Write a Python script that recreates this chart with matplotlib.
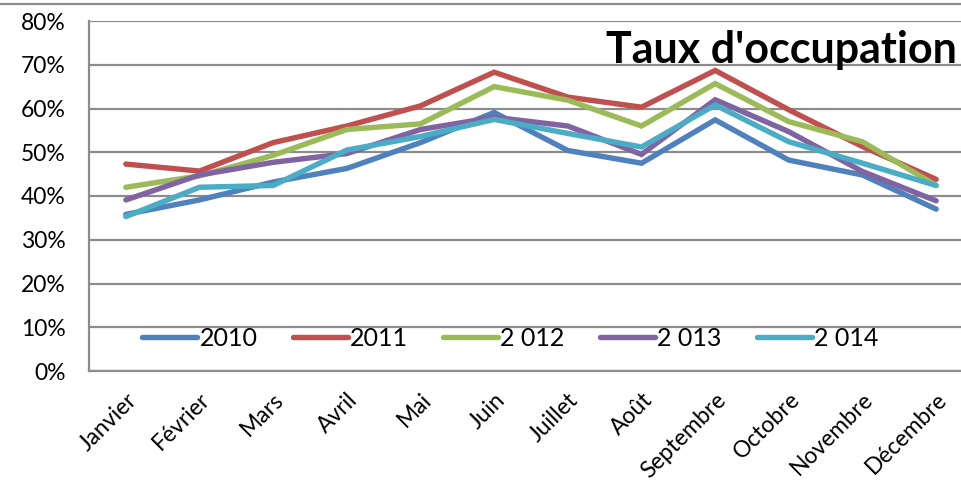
import matplotlib
matplotlib.use("Agg")
import matplotlib.pyplot as plt
from matplotlib.lines import Line2D
from matplotlib.ticker import FuncFormatter

plt.rcParams['font.family'] = ['Lato', 'DejaVu Sans']

months = ["Janvier", "Février", "Mars", "Avril", "Mai", "Juin", "Juillet",
          "Août", "Septembre", "Octobre", "Novembre", "Décembre"]
series_names = ["2010", "2011", "2 012", "2 013", "2 014"]
y2010 = [35.8, 39.1, 43.2, 46.3, 52.2, 59.1, 50.4, 47.5, 57.4, 48.2, 44.8, 37.0]
y2011 = [47.3, 45.7, 52.2, 56.0, 60.6, 68.3, 62.6, 60.3, 68.7, 59.7, 51.3, 43.8]
y2012 = [42.0, 44.6, 49.3, 55.2, 56.5, 65.0, 61.9, 56.0, 65.7, 57.0, 52.4, 42.4]
y2013 = [39.1, 44.8, 47.7, 49.7, 55.2, 58.0, 56.0, 49.5, 62.0, 54.7, 45.6, 38.9]
y2014 = [35.3, 42.0, 42.4, 50.5, 53.6, 57.5, 54.3, 51.2, 60.8, 52.4, 47.5, 42.4]
colors = ["#4F81BD", "#C0504D", "#9BBB59", "#8064A2", "#4BACC6"]

W, H = 962, 487
fig = plt.figure(figsize=(W / 100, H / 100), dpi=100)
ax = fig.add_axes([89 / W, (H - 371) / H, (973 - 89) / W, (371 - 21) / H])

x = list(range(len(months)))
for ys, c, name in zip([y2010, y2011, y2012, y2013, y2014], colors, series_names):
    ax.plot(x, ys, color=c, lw=3.9, solid_capstyle='round', solid_joinstyle='miter', label=name, zorder=3)

ax.set_xlim(-0.5, len(months) - 0.5)
ax.set_ylim(0, 80)
ax.set_yticks(range(0, 81, 10))
ax.yaxis.set_major_formatter(FuncFormatter(lambda v, p: f"{int(v)}%"))
ax.grid(axis='y', color='#8C8C8C', lw=1.6, zorder=1)
ax.set_axisbelow(True)
for s in ['top', 'right']:
    ax.spines[s].set_visible(False)
for s in ['left', 'bottom']:
    ax.spines[s].set_color('#8C8C8C')
    ax.spines[s].set_linewidth(1.6)
ax.tick_params(axis='both', length=0, colors='black')
ax.tick_params(axis='y', pad=17, labelsize=16.5)
ax.set_xticks(x)
ax.set_xticklabels(months, rotation=45, ha='right', rotation_mode='anchor', fontsize=16.5)
ax.tick_params(axis='x', pad=13)

leg = ax.legend(loc='center left', bbox_to_anchor=(53 / 884, 33 / 350), ncol=5, frameon=False,
                fontsize=18, handlelength=2.2, handletextpad=0.1, columnspacing=1.4,
                borderaxespad=0, borderpad=0)

fig.text(606 / W, (H - 63) / H, "Taux d'occupation", fontsize=31, fontweight='bold',
         ha='left', va='baseline')

fig.add_artist(Line2D([0, 1], [(H - 4) / H, (H - 4) / H], color='#8C8C8C', lw=1.6,
                      transform=fig.transFigure))

fig.savefig("out.png", dpi=100)
